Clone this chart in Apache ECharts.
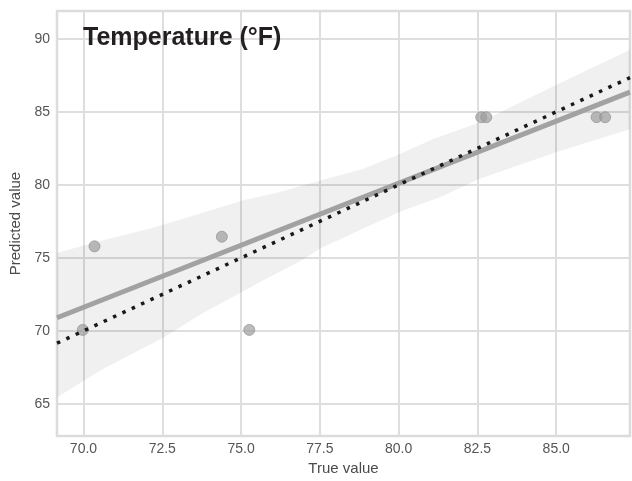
<!DOCTYPE html>
<html>
<head>
<meta charset="utf-8">
<title>Temperature (°F)</title>
<script src="https://cdn.jsdelivr.net/npm/echarts@6/dist/echarts.min.js"></script>
<style>
  html, body { margin: 0; padding: 0; background: #fff; }
  #tempChart { width: 632px; height: 481px; }
</style>
</head>
<body>
<div id="tempChart"></div>
<script>
// 散点数据: 真实值 / 预测值
const trueValues = [69.98, 70.35, 74.39, 75.26, 82.62, 82.78, 86.28, 86.55];
const predictedValues = [70.07, 75.79, 76.45, 70.07, 84.63, 84.63, 84.63, 84.63];

// 回归线两端
const regLine = [[69.16, 70.9], [87.34, 86.35]];
// y = x 参考线
const idealLine = [[69.16, 69.16], [87.34, 87.34]];

// 置信区间上下边界
const bandUpper = [
  [69.17, 75.35], [70.53, 76.15], [72.12, 77.01], [73.70, 78.03], [75.07, 78.94],
  [76.23, 79.51], [77.51, 80.30], [78.88, 81.10], [80.04, 82.11], [81.09, 83.13],
  [82.58, 84.29], [85.02, 86.87], [87.34, 89.25]
];
const bandLower = [
  [69.17, 65.46], [70.53, 67.29], [72.53, 69.53], [73.70, 71.10], [74.97, 72.59],
  [75.83, 73.61], [76.88, 74.77], [77.51, 75.65], [78.78, 76.90], [80.04, 78.15],
  [81.31, 79.15], [82.58, 80.41], [85.02, 82.25], [87.34, 83.81]
];

// 刻度
const xTicks = [70, 72.5, 75, 77.5, 80, 82.5, 85];
const yTicks = [65, 70, 75, 80, 85, 90];

const loadChart = () => {
  let chartDom = document.getElementById('tempChart');
  let myChart = echarts.init(chartDom);
  let points = trueValues.map((x, i) => [x, predictedValues[i]]);
  let font = '"Liberation Sans", Arial, sans-serif';

  let option = {
    animation: false,
    backgroundColor: '#fff',
    title: {
      text: 'Temperature (°F)',
      left: 78,
      top: 21,
      textStyle: { fontFamily: font, fontSize: 25, fontWeight: 'bold', color: '#231f20' }
    },
    grid: {
      left: 57, right: 2, top: 11, bottom: 42,
      show: true, borderColor: '#dcdcdc', borderWidth: 2.5
    },
    xAxis: {
      type: 'value',
      min: 69.16,
      max: 87.34,
      name: 'True value',
      nameLocation: 'middle',
      nameGap: 23,
      nameTextStyle: { fontFamily: font, fontSize: 15, color: '#4a4a4a' },
      axisLine: { show: false },
      axisTick: { show: false, customValues: xTicks },
      axisLabel: {
        customValues: xTicks, margin: 6,
        fontFamily: font, fontSize: 14, color: '#555',
        formatter: (v) => v.toFixed(1)
      },
      splitLine: { show: true, lineStyle: { color: '#dedede', width: 2 } }
    },
    yAxis: {
      type: 'value',
      min: 62.8,
      max: 91.9,
      name: 'Predicted value',
      nameLocation: 'middle',
      nameGap: 31,
      nameTextStyle: { fontFamily: font, fontSize: 15, color: '#4a4a4a' },
      axisLine: { show: false },
      axisTick: { show: false, customValues: yTicks },
      axisLabel: {
        customValues: yTicks, margin: 7,
        fontFamily: font, fontSize: 14, color: '#555'
      },
      splitLine: { show: true, lineStyle: { color: '#dedede', width: 2 } }
    },
    series: [
      { // 置信带, 用多边形画
        type: 'custom',
        silent: true,
        clip: true,
        data: [0],
        renderItem: (params, api) => {
          let pts = bandUpper.map((p) => api.coord(p))
            .concat(bandLower.slice().reverse().map((p) => api.coord(p)));
          return {
            type: 'polygon',
            shape: { points: pts },
            style: { fill: 'rgba(0,0,0,0.06)' }
          };
        },
        z: 1
      },
      {
        type: 'scatter',
        data: points,
        symbolSize: 11,
        itemStyle: { color: 'rgba(155,155,155,0.85)', borderColor: 'rgba(145,145,145,0.9)', borderWidth: 1 },
        z: 2
      },
      { // 回归线
        type: 'line',
        data: regLine,
        showSymbol: false,
        clip: true,
        lineStyle: { color: '#a2a2a2', width: 5 },
        z: 3
      },
      { // y = x
        type: 'line',
        data: idealLine,
        showSymbol: false,
        clip: true,
        lineStyle: { color: '#1c1718', width: 3.5, type: [3.5, 6.8], cap: 'butt' },
        z: 4
      }
    ]
  };
  option && myChart.setOption(option);
};

loadChart();
</script>
</body>
</html>
